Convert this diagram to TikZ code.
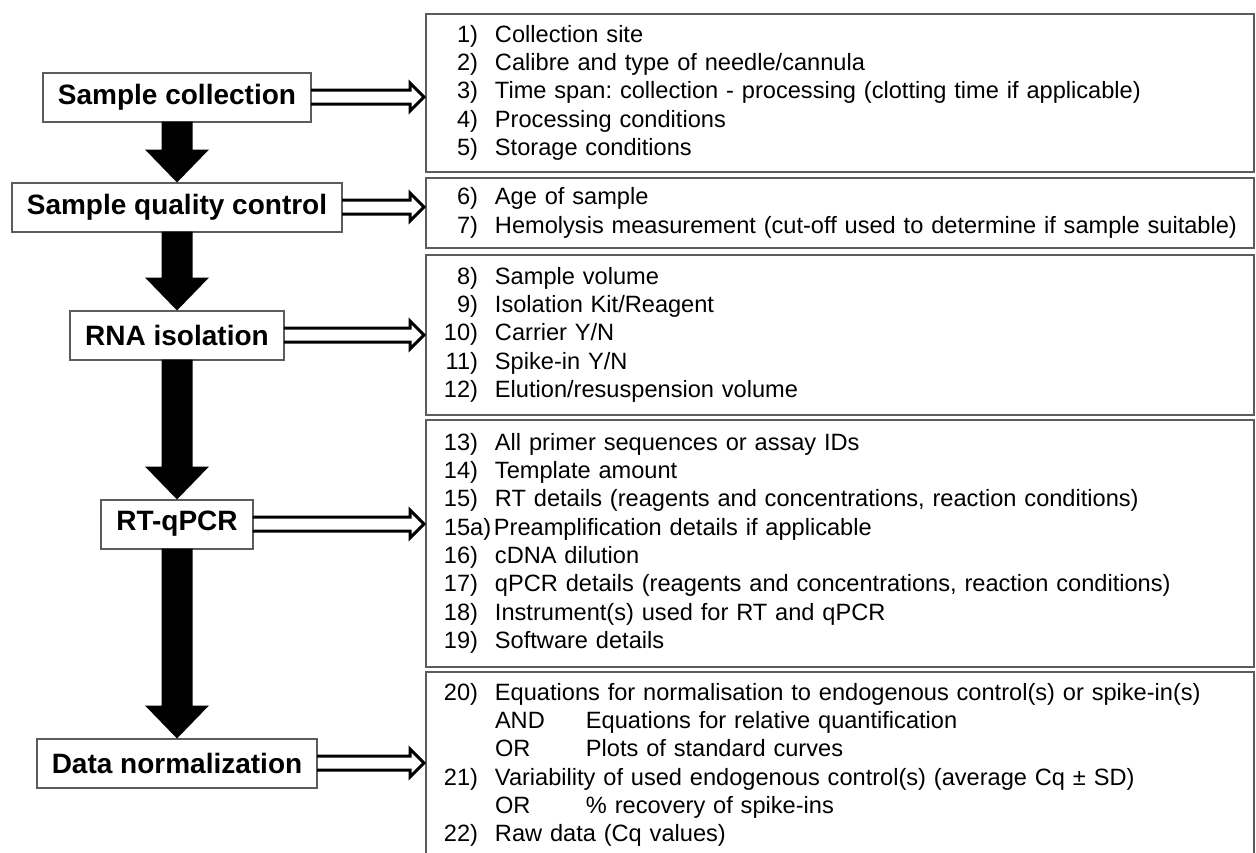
\documentclass[tikz,border=0pt]{standalone}
\usepackage{fontspec}
\setmainfont{Liberation Sans}
\usetikzlibrary{calc}
\frenchspacing
\definecolor{boxgray}{HTML}{5C5C5C}
\tikzset{
  stage/.style={draw=boxgray, line width=2pt, fill=white, outer sep=0pt,
    font=\fontsize{28}{32}\selectfont\bfseries, inner xsep=15pt, inner ysep=0pt,
    minimum height=49pt, anchor=center},
  listbox/.style={draw=boxgray, line width=2pt, anchor=north west, outer sep=0pt,
    minimum width=828pt, text width=792pt, inner xsep=18pt, inner ysep=0pt, align=left,
    font=\fontsize{23.6}{28.3}\selectfont\frenchspacing},
  flow/.style={fill=black},
  hollow/.style={draw=black, line width=3pt, line join=miter},
}
\newcommand{\lstrut}{\rule[-5.5pt]{0pt}{22.8pt}}
\newcommand{\li}[2]{\mbox{\makebox[34pt][r]{#1}\hspace{17pt}#2\lstrut}}
\newcommand{\lia}[2]{\mbox{\makebox[34pt][l]{\rlap{#1}}\hspace{16pt}#2\lstrut}}
\newcommand{\subli}[2]{\mbox{\hspace{51pt}\makebox[91pt][l]{#1}#2\lstrut}}
\begin{document}
\begin{tikzpicture}[x=1pt, y=-1pt]
\path[use as bounding box] (0,0) rectangle (1256,852);
\clip (0,0) rectangle (1256,852);

% left stages
\node[stage] (s1) at (177,97) {Sample collection};
\node[stage] (s2) at (177,207) {Sample quality control};
\node[stage] (s3) at (177,335) {RNA isolation};
\node[stage] (s4) at (177,524) {RT-qPCR};
\node[stage] (s5) at (177,763) {Data normalization};

% right lists
\node[listbox, minimum height=158pt] (r1) at (426,14) {%
\li{1)}{Collection site}\\
\li{2)}{Calibre and type of needle/cannula}\\
\li{3)}{Time span: collection - processing (clotting time if applicable)}\\
\li{4)}{Processing conditions}\\
\li{5)}{Storage conditions}};

\node[listbox, minimum height=70pt] (r2) at (426,178) {%
\li{6)}{Age of sample}\\
\li{7)}{Hemolysis measurement (cut-off used to determine if sample suitable)}};

\node[listbox, minimum height=160pt] (r3) at (426,255) {%
\li{8)}{Sample volume}\\
\li{9)}{Isolation Kit/Reagent}\\
\li{10)}{Carrier Y/N}\\
\li{11)}{Spike-in Y/N}\\
\li{12)}{Elution/resuspension volume}};

\node[listbox, minimum height=247pt] (r4) at (426,420) {%
\li{13)}{All primer sequences or assay IDs}\\
\li{14)}{Template amount}\\
\li{15)}{RT details (reagents and concentrations, reaction conditions)}\\
\lia{15a)}{Preamplification details if applicable}\\
\li{16)}{cDNA dilution}\\
\li{17)}{qPCR details (reagents and concentrations, reaction conditions)}\\
\li{18)}{Instrument(s) used for RT and qPCR}\\
\li{19)}{Software details}};

\node[listbox, minimum height=186pt] (r5) at (426,672) {%
\li{20)}{Equations for normalisation to endogenous control(s) or spike-in(s)}\\
\subli{AND}{Equations for relative quantification}\\
\subli{OR}{Plots of standard curves}\\
\li{21)}{Variability of used endogenous control(s) (average Cq \textpm{} SD)}\\
\subli{OR}{\% recovery of spike-ins}\\
\li{22)}{Raw data (Cq values)}};

% black flow arrows
\foreach \a/\b in {s1/s2, s2/s3, s3/s4, s4/s5}{
  \fill[flow] ($(\a.south)+(-15.5,0)$) -- ($(\b.north)+(-15.5,-33)$)
    -- ($(\b.north)+(-32,-33)$) -- (\b.north) -- ($(\b.north)+(32,-33)$)
    -- ($(\b.north)+(15.5,-33)$) -- ($(\a.south)+(15.5,0)$) -- cycle;
}

% hollow arrows
\foreach \a/\b in {s1/r1, s2/r2, s3/r3, s4/r4, s5/r5}{
  \coordinate (t) at (\b.west |- \a.east);
  \draw[hollow] ($(\a.east)+(0,-7)$) -- ($(t)+(-16,-7)$) -- ($(t)+(-16,-14)$)
    -- ($(t)+(-2,0)$) -- ($(t)+(-16,14)$) -- ($(t)+(-16,7)$) -- ($(\a.east)+(0,7)$);
}
\end{tikzpicture}
\end{document}
